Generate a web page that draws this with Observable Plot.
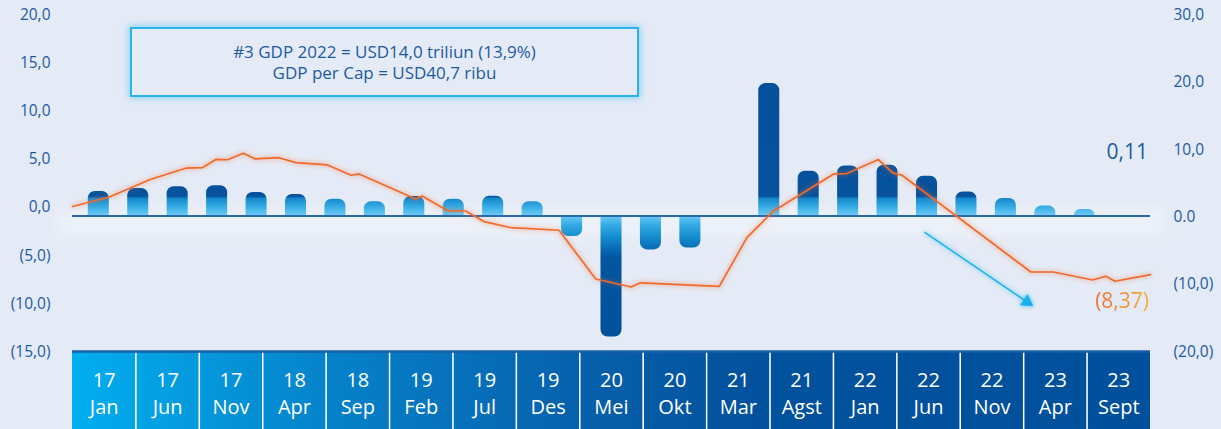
<!DOCTYPE html>
<html>
<head>
<meta charset="utf-8">
<script src="https://cdn.jsdelivr.net/npm/d3@7"></script>
<script src="https://cdn.jsdelivr.net/npm/@observablehq/plot@0.6"></script>
<style>
  html, body { margin: 0; padding: 0; background: #e5ebf6; }
  #wrap { position: relative; width: 1221px; height: 429px; overflow: hidden; font-family: "Open Sans", sans-serif; }
  #glow { position: absolute; left: 58px; top: 210px; width: 1106px; height: 26px; background: rgba(255,255,255,0.3); filter: blur(7px); }
  #chart { position: absolute; left: 0; top: 0; }
  #chart svg { display: block; }
  .note { position: absolute; left: 130px; top: 27px; width: 509px; height: 70px; box-sizing: border-box;
          border: 2px solid #2ab4ee; box-shadow: 0 0 7px 1px rgba(40,180,240,0.5);
          display: flex; flex-direction: column; justify-content: center; align-items: center;
          color: #1c5aa0; font-size: 17px; line-height: 21px; }
  .lbl { position: absolute; font-size: 21px; line-height: 1; white-space: nowrap; }
  #gdpLbl { right: 73px; top: 141px; color: #1c5aa0; }
  #lineLbl { right: 72px; top: 290px; background: linear-gradient(90deg, #ef6d2c, #f6ad35);
             -webkit-background-clip: text; background-clip: text; color: transparent; }
</style>
</head>
<body>
<div id="wrap">
  <div id="glow"></div>
  <div id="chart"></div>
  <div class="note"><div>#3 GDP 2022 = USD14,0 triliun (13,9%)</div><div>GDP per Cap = USD40,7 ribu</div></div>
  <div class="lbl" id="gdpLbl"></div>
  <div class="lbl" id="lineLbl"></div>
</div>
<script>
// ---------- data ----------
const catYears  = ["17","17","17","18","18","19","19","19","20","20","21","21","22","22","22","23","23"];
const catMonths = ["Jan","Jun","Nov","Apr","Sep","Feb","Jul","Des","Mei","Okt","Mar","Agst","Jan","Jun","Nov","Apr","Sept"];

// quarterly bars (left axis, %)
const quarterLabels = ["17Q1","17Q2","17Q3","17Q4","18Q1","18Q2","18Q3","18Q4","19Q1","19Q2","19Q3","19Q4",
                       "20Q1","20Q2","20Q3","20Q4","21Q1","21Q2","21Q3","21Q4","22Q1","22Q2","22Q3","22Q4","23Q1","23Q2"];
const gdpGrowth = [2.55, 2.86, 3.04, 3.14, 2.44, 2.23, 1.75, 1.48, 2.03, 1.75, 2.06, 1.48,
                   -2.13, -12.58, -3.53, -3.33, 0, 13.76, 4.65, 5.2, 5.27, 4.13, 2.49, 1.81, 1.04, 0.67];

// line (right axis), month offset from Jan 2017
const lineMonths = [0, 2.8, 4.4, 5.9, 8.6, 9.9, 10.9, 11.8, 13.0, 13.9, 15.7, 17.0, 19.4, 21.2, 21.8, 26.1, 26.6,
                    28.5, 29.9, 31.3, 33.3, 37.0, 39.8, 42.5, 43.2, 49.2, 51.3, 53.3, 57.9, 58.9, 61.3, 62.4, 63.1,
                    72.9, 74.6, 77.6, 78.6, 79.3, 82.0];
const lineValues = [1.40, 2.82, 4.16, 5.41, 7.09, 7.19, 8.40, 8.35, 9.32, 8.47, 8.65, 7.93, 7.58, 6.05, 6.24, 2.53, 2.97,
                    0.80, 0.74, -0.83, -1.72, -2.12, -9.36, -10.55, -9.93, -10.45, -3.21, 0.70, 6.24, 6.30, 8.38, 6.39, 6.05,
                    -8.32, -8.32, -9.51, -8.96, -9.70, -8.71];

const leftTicks  = [-15, -10, -5, 0, 5, 10, 15, 20];
const rightTicks = [-20, -10, 0, 10, 20, 30];

const latestGdpLabel  = "0,11";
const latestLineLabel = "(8,37)";

// trend arrow annotation (month offset, left-axis units)
const arrowFrom = {m: 64.8, v: -1.68};
const arrowHead = {m: 72.6, v: -8.92};

// ---------- layout constants ----------
const SPAN = 82;            // months covered by the x axis
const K = 0.70;             // right-axis unit -> left-axis unit
const Y_DOMAIN = [-22.2, 22.4];
const BOX_TOP = -14.1;
const TEXT_Y = -18.3;
const BAR_HALF = 0.8;       // half bar width in months
const n = catYears.length;

const fmt = x => x.toFixed(1).replace(".", ",");
const fmtLeft = v => v < 0 ? `(${fmt(-v)})` : fmt(v);
const fmtRight = r => r === 0 ? "0.0" : (r < 0 ? `(${fmt(-r)})` : fmt(r));

const boxes = catYears.map((y, i) => ({i, year: y, month: catMonths[i]}));
const bars = gdpGrowth.map((v, i) => ({q: quarterLabels[i], m: 3 * i + 2, v}));
const posBars = bars.filter(d => d.v > 0);
const negBars = bars.filter(d => d.v < 0);
const lineData = lineMonths.map((m, i) => ({m, r: lineValues[i]}));

const defsMark = (index, scales) => {
  const ns = "http://www.w3.org/2000/svg";
  const defs = document.createElementNS(ns, "defs");
  const xs = scales && scales.x ? scales.x : (m => 72 + m * 1078 / SPAN);
  const ys = scales && scales.y ? scales.y : (v => 215.46 - v * 9.619);
  const H = 429;
  const y0 = ys(0);
  const st = [[-400,"#004f9a"],[-20,"#07529c"],[-18.5,"#0b5fa8"],[-17,"#1389cc"],[-8,"#3aaee6"],[-1,"#68c8f2"],
              [1,"#68c8f2"],[9,"#36ace6"],[20,"#1690d0"],[32,"#0a6fb9"],[42,"#02559f"],[400,"#004d96"]];
  const barStops = st.map(([d, c]) => `<stop offset="${Math.max(0, Math.min(1, (y0 + d) / H))}" stop-color="${c}"/>`).join("");
  defs.innerHTML =
    `<linearGradient id="boxGrad" gradientUnits="userSpaceOnUse" x1="${xs(0)}" y1="0" x2="${xs(SPAN)}" y2="0">
       <stop offset="0" stop-color="#00aef0"/><stop offset="0.12" stop-color="#0598dc"/>
       <stop offset="0.25" stop-color="#0580c8"/><stop offset="0.4" stop-color="#066bb6"/>
       <stop offset="0.5" stop-color="#065da8"/><stop offset="0.64" stop-color="#02519c"/>
       <stop offset="1" stop-color="#00509b"/></linearGradient>
     <linearGradient id="barGrad" gradientUnits="userSpaceOnUse" x1="0" y1="0" x2="0" y2="${H}">${barStops}</linearGradient>`;
  return defs;
};

const chart = Plot.plot({
  width: 1221,
  height: 429,
  marginLeft: 72,
  marginRight: 71,
  marginTop: 0,
  marginBottom: 0,
  x: {domain: [0, SPAN], axis: null},
  y: {domain: Y_DOMAIN, axis: null},
  style: {background: "transparent", fontFamily: "'Open Sans', sans-serif", overflow: "visible"},
  marks: [
    defsMark,
    // category band at the bottom
    Plot.rect(boxes, {x1: d => d.i * SPAN / n, x2: d => (d.i + 1) * SPAN / n, y1: BOX_TOP, y2: Y_DOMAIN[0], fill: "url(#boxGrad)"}),
    Plot.ruleX(d3.range(1, n).map(i => i * SPAN / n), {y1: BOX_TOP, y2: Y_DOMAIN[0], stroke: "#ffffff", strokeWidth: 1.5}),
    Plot.ruleY([BOX_TOP], {stroke: "#1b5ca6", strokeWidth: 2.5}),
    Plot.text(boxes, {x: d => (d.i + 0.5) * SPAN / n, y: TEXT_Y, text: d => `${d.year}\n${d.month}`,
                      fill: "white", fontSize: 20, lineHeight: 1.35}),
    // axes
    Plot.axisY(leftTicks, {anchor: "left", label: null, tickSize: 0, tickPadding: 22, dy: -8.5, tickFormat: fmtLeft,
                           fontSize: 15.5, color: "#1c5aa0", fill: "#1c5aa0"}),
    Plot.axisY(rightTicks.map(r => r * K), {anchor: "right", label: null, tickSize: 0, tickPadding: 23, dy: 1,
                           tickFormat: v => fmtRight(Math.round(v / K)), fontSize: 15.5, color: "#1c5aa0", fill: "#1c5aa0"}),
    // bars with a rounded value end
    Plot.rect(posBars, {x1: d => d.m - BAR_HALF, x2: d => d.m + BAR_HALF, y1: 0, y2: "v",
                        fill: "url(#barGrad)", ry2: 7}),
    Plot.rect(negBars, {x1: d => d.m - BAR_HALF, x2: d => d.m + BAR_HALF, y1: "v", y2: 0,
                        fill: "url(#barGrad)", ry1: 7}),
    Plot.ruleY([0], {stroke: "#2a68ae", strokeWidth: 2}),
    // line on right axis
    Plot.line(lineData, {x: "m", y: d => d.r * K, stroke: "#f26a2b", strokeWidth: 1.7}),
    // trend arrow
    Plot.link([{a: arrowFrom, b: arrowHead}], {x1: d => d.a.m, y1: d => d.a.v, x2: d => d.b.m, y2: d => d.b.v,
                                               stroke: "#1ab0f0", strokeWidth: 1.5}),
    Plot.dot([arrowHead], {x: "m", y: "v", symbol: "triangle2", r: 6.5, fill: "#1ab0f0", rotate: 124.3})
  ]
});

document.getElementById("chart").appendChild(chart);
const lg = chart.querySelector('g[aria-label="line"]');
if (lg) lg.style.filter = "drop-shadow(0 0 2.5px rgba(242,110,50,0.75))";
const ag = chart.querySelector('g[aria-label="link"]');
if (ag) ag.style.filter = "drop-shadow(0 0 2.5px rgba(30,180,245,0.8))";
const dg = chart.querySelector('g[aria-label="dot"]');
if (dg) dg.style.filter = "drop-shadow(0 0 2.5px rgba(30,180,245,0.8))";

document.getElementById("gdpLbl").textContent = latestGdpLabel;
document.getElementById("lineLbl").textContent = latestLineLabel;
</script>
</body>
</html>
